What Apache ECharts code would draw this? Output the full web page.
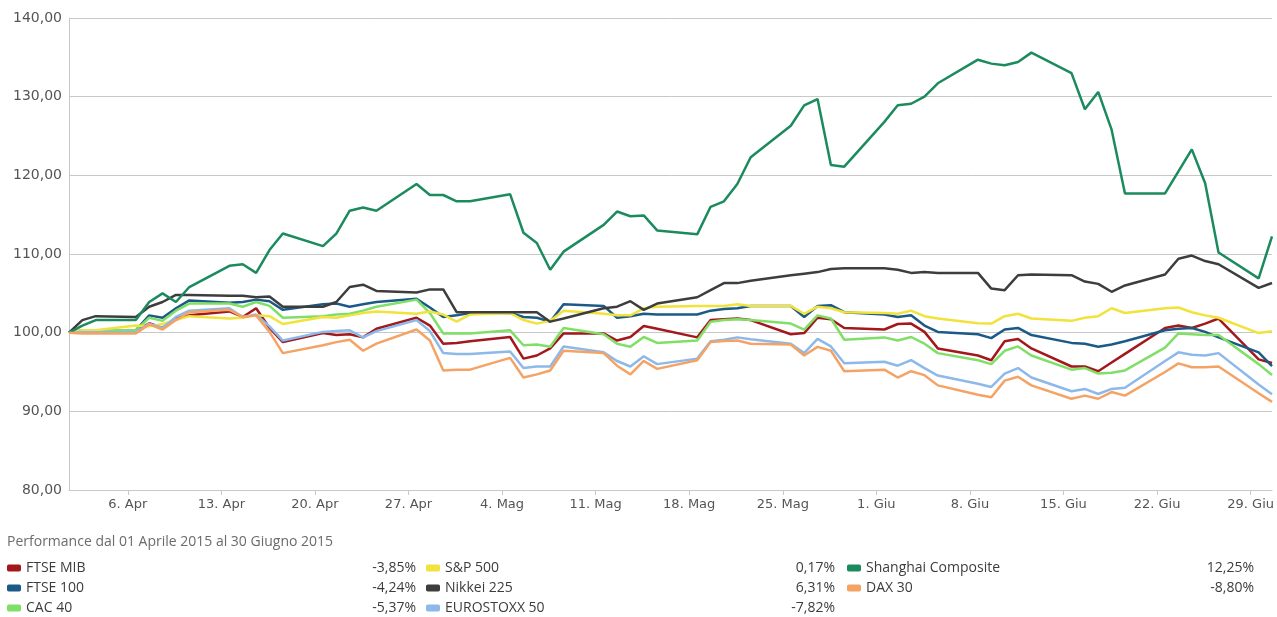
<!DOCTYPE html>
<html>
<head>
<meta charset="utf-8">
<title>Performance indici</title>
<script src="https://cdn.jsdelivr.net/npm/echarts@6/dist/echarts.min.js"></script>
<style>
  html, body { margin: 0; padding: 0; background: #fff; }
  #chart { width: 1277px; height: 617px; }
</style>
</head>
<body>
<div id="chart"></div>
<script>
  // giorni di borsa (lun-ven) dal 1 aprile al 30 giugno 2015
  var dates = [
    '2015-04-01','2015-04-02','2015-04-03','2015-04-06','2015-04-07','2015-04-08','2015-04-09','2015-04-10',
    '2015-04-13','2015-04-14','2015-04-15','2015-04-16','2015-04-17','2015-04-20','2015-04-21','2015-04-22',
    '2015-04-23','2015-04-24','2015-04-27','2015-04-28','2015-04-29','2015-04-30','2015-05-01','2015-05-04',
    '2015-05-05','2015-05-06','2015-05-07','2015-05-08','2015-05-11','2015-05-12','2015-05-13','2015-05-14',
    '2015-05-15','2015-05-18','2015-05-19','2015-05-20','2015-05-21','2015-05-22','2015-05-25','2015-05-26',
    '2015-05-27','2015-05-28','2015-05-29','2015-06-01','2015-06-02','2015-06-03','2015-06-04','2015-06-05',
    '2015-06-08','2015-06-09','2015-06-10','2015-06-11','2015-06-12','2015-06-15','2015-06-16','2015-06-17',
    '2015-06-18','2015-06-19','2015-06-22','2015-06-23','2015-06-24','2015-06-25','2015-06-26','2015-06-29',
    '2015-06-30'
  ];

  var ftseMib = [100, 100.2, 100.2, 100.2, 101.2, 100.6, 101.9, 102.2, 102.7, 102.0, 103.1, 100.6, 98.8,
    99.95, 99.7, 99.8, 99.4, 100.5, 101.9, 100.9, 98.6, 98.7, 98.9, 99.45, 96.7, 97.1, 98.0, 99.9,
    99.9, 99.0, 99.45, 100.85, 100.5, 99.4, 101.6, 101.7, 101.8, 101.6, 99.8, 99.95, 101.9, 101.7, 100.6,
    100.4, 101.1, 101.15, 100.1, 98.0, 97.1, 96.5, 98.9, 99.2, 98.0, 95.7, 95.7, 95.1, 96.2, 97.3,
    100.6, 100.9, 100.6, 101.15, 101.8, 96.6, 96.15];
  var ftse100 = [100, 100.3, 100.3, 100.3, 102.2, 101.9, 103.1, 104.1, 103.8, 103.9, 104.2, 104.0, 102.9,
    103.6, 103.7, 103.3, 103.6, 103.9, 104.3, 103.2, 102.0, 102.2, 102.5, 102.5, 102.0, 101.9, 101.4, 103.6,
    103.4, 101.9, 102.1, 102.4, 102.3, 102.3, 102.8, 103.0, 103.1, 103.4, 103.4, 102.0, 103.4, 103.5, 102.6,
    102.3, 102.0, 102.2, 100.9, 100.1, 99.8, 99.3, 100.4, 100.6, 99.7, 98.7, 98.6, 98.2, 98.5, 98.9,
    100.3, 100.5, 100.6, 100.1, 99.4, 97.5, 95.76];
  var cac40 = [100, 100.3, 100.3, 100.3, 101.9, 101.5, 102.8, 103.7, 103.7, 103.3, 103.9, 103.4, 101.9,
    102.1, 102.3, 102.4, 102.8, 103.3, 104.2, 102.5, 99.9, 99.9, 99.9, 100.3, 98.4, 98.5, 98.2, 100.6,
    99.8, 98.6, 98.2, 99.45, 98.7, 99.0, 101.4, 101.6, 101.7, 101.6, 101.15, 100.4, 102.2, 101.8, 99.1,
    99.4, 99.0, 99.45, 98.6, 97.4, 96.5, 96.0, 97.7, 98.25, 97.1, 95.3, 95.5, 94.8, 94.9, 95.2,
    98.1, 99.9, 99.8, 99.7, 99.7, 96.0, 94.63];
  var sp500 = [100, 100.3, 100.3, 100.9, 100.8, 101.1, 101.6, 102.1, 101.8, 101.9, 102.2, 102.1, 101.1,
    102.0, 101.9, 102.2, 102.5, 102.7, 102.4, 102.7, 102.3, 101.4, 102.3, 102.5, 101.6, 101.15, 101.5, 102.8,
    102.4, 102.2, 102.2, 103.1, 103.3, 103.4, 103.4, 103.4, 103.6, 103.4, 103.4, 102.4, 103.3, 103.1, 102.6,
    102.5, 102.4, 102.8, 102.1, 101.8, 101.2, 101.15, 102.1, 102.4, 101.8, 101.5, 101.9, 102.1, 103.1, 102.5,
    103.1, 103.2, 102.6, 102.2, 101.9, 99.95, 100.17];
  var nikkei225 = [100, 101.6, 102.1, 102.0, 103.3, 103.9, 104.8, 104.8, 104.7, 104.7, 104.5, 104.6, 103.3,
    103.3, 103.9, 105.8, 106.1, 105.3, 105.1, 105.5, 105.5, 102.6, 102.6, 102.6, 102.6, 102.6, 101.4, 101.8,
    103.1, 103.3, 104.0, 102.9, 103.7, 104.5, 105.4, 106.3, 106.3, 106.6, 107.3, 107.5, 107.7, 108.1, 108.2,
    108.2, 108.0, 107.6, 107.7, 107.6, 107.6, 105.6, 105.4, 107.3, 107.4, 107.3, 106.5, 106.2, 105.2, 106.0,
    107.4, 109.4, 109.8, 109.1, 108.7, 105.7, 106.31];
  var eurostoxx50 = [100, 100.05, 100.05, 100.05, 101.15, 100.6, 102.0, 102.8, 103.1, 102.0, 102.3, 100.8, 99.0,
    100.1, 100.2, 100.3, 99.4, 100.2, 101.6, 100.2, 97.4, 97.3, 97.3, 97.6, 95.5, 95.7, 95.7, 98.25,
    97.5, 96.4, 95.7, 97.0, 96.0, 96.7, 98.9, 99.1, 99.4, 99.15, 98.6, 97.4, 99.2, 98.25, 96.1,
    96.3, 95.8, 96.5, 95.5, 94.55, 93.5, 93.1, 94.8, 95.5, 94.3, 92.55, 92.85, 92.2, 92.85, 93.0,
    96.4, 97.5, 97.2, 97.1, 97.4, 93.4, 92.18];
  var shanghai = [100, 100.9, 101.6, 101.6, 103.9, 105.0, 103.9, 105.8, 108.5, 108.7, 107.6, 110.5, 112.6,
    111.0, 112.6, 115.5, 115.9, 115.5, 118.9, 117.5, 117.5, 116.7, 116.7, 117.6, 112.7, 111.4, 108.0, 110.3,
    113.7, 115.4, 114.8, 114.9, 113.0, 112.5, 116.0, 116.7, 118.9, 122.3, 126.3, 128.9, 129.7, 121.3, 121.1,
    126.8, 128.9, 129.1, 130.0, 131.7, 134.7, 134.2, 134.0, 134.4, 135.6, 133.0, 128.4, 130.6, 125.8, 117.7,
    117.7, 120.5, 123.3, 119.0, 110.2, 106.9, 112.25];
  var dax30 = [100, 99.9, 99.9, 99.9, 101.05, 100.4, 101.6, 102.6, 102.9, 102.0, 102.2, 100.1, 97.4,
    98.4, 98.8, 99.1, 97.7, 98.6, 100.4, 99.0, 95.2, 95.3, 95.3, 96.8, 94.3, 94.7, 95.2, 97.7,
    97.4, 95.8, 94.7, 96.4, 95.4, 96.5, 98.8, 98.95, 99.0, 98.6, 98.5, 97.1, 98.2, 97.7, 95.1,
    95.3, 94.3, 95.1, 94.6, 93.3, 92.1, 91.8, 93.9, 94.4, 93.3, 91.6, 92.0, 91.6, 92.45, 92.0,
    95.0, 96.1, 95.6, 95.6, 95.7, 92.3, 91.2];

  // lunedi con etichetta sull'asse x
  var tickDates = ['2015-04-06','2015-04-13','2015-04-20','2015-04-27','2015-05-04','2015-05-11','2015-05-18',
    '2015-05-25','2015-06-01','2015-06-08','2015-06-15','2015-06-22','2015-06-29'];
  var mesi = ['Gen','Feb','Mar','Apr','Mag','Giu','Lug','Ago','Set','Ott','Nov','Dic'];

  var indici = [
    { name: 'FTSE MIB', data: ftseMib, color: '#a3181c' },
    { name: 'FTSE 100', data: ftse100, color: '#1b5a87' },
    { name: 'CAC 40', data: cac40, color: '#80df67' },
    { name: 'S&P 500', data: sp500, color: '#f1e23c' },
    { name: 'Nikkei 225', data: nikkei225, color: '#3d3d3d' },
    { name: 'EUROSTOXX 50', data: eurostoxx50, color: '#8db9ea' },
    { name: 'Shanghai Composite', data: shanghai, color: '#1b8b5e' },
    { name: 'DAX 30', data: dax30, color: '#f4a364' }
  ];

  // asse x in giorni dal 1 aprile (scala lineare, weekend compresi)
  var DAY = 24 * 3600 * 1000;
  var t0 = Date.UTC(2015, 3, 1);
  var TICK_SHIFT = 0.6; // i tick del grafico originale cadono poco prima del punto del giorno
  function dayNum(s) {
    var p = s.split('-');
    return Math.round((Date.UTC(+p[0], +p[1] - 1, +p[2]) - t0) / DAY);
  }
  function fmt2(v) { return v.toFixed(2).replace('.', ','); }
  var tickPos = tickDates.map(function (s) { return dayNum(s) - TICK_SHIFT; });

  var perf = {};
  indici.forEach(function (s) { perf[s.name] = fmt2(s.data[s.data.length - 1] - 100) + '%'; });

  var chart = echarts.init(document.getElementById('chart'));

  // una legenda per voce: 3 colonne, riempite dall'alto in basso
  var colLeft = [2, 421, 842];
  var rowTop = [556, 576, 596];
  var legends = indici.map(function (s, i) {
    var col = Math.floor(i / 3), row = i % 3;
    return {
      left: colLeft[col],
      top: rowTop[row],
      itemWidth: 14,
      itemHeight: 7,
      icon: 'roundRect',
      selectedMode: false,
      data: [s.name],
      formatter: function (name) {
        return '{n|' + name + '}{v|' + perf[name] + '}';
      },
      textStyle: {
        fontFamily: 'Open Sans',
        fontSize: 14,
        color: '#3c3c3c',
        rich: {
          n: { width: col === 2 ? 338 : 340, fontFamily: 'Open Sans', fontSize: 14, color: '#3c3c3c' },
          v: { width: 50, align: 'right', fontFamily: 'Open Sans', fontSize: 14, color: '#3c3c3c' }
        }
      }
    };
  });

  var option = {
    animation: false,
    backgroundColor: '#fff',
    title: {
      text: 'Performance dal 01 Aprile 2015 al 30 Giugno 2015',
      left: 2,
      top: 530,
      textStyle: { fontFamily: 'Open Sans', fontSize: 14, fontWeight: 'normal', color: '#6b6b6b' }
    },
    legend: legends,
    grid: { left: 69, right: 5, top: 18, bottom: 127 },
    xAxis: {
      type: 'value',
      min: 0,
      max: dayNum(dates[dates.length - 1]),
      axisLine: { lineStyle: { color: '#c8c8c8', width: 1 } },
      axisTick: {
        show: true,
        length: 5,
        customValues: tickPos,
        lineStyle: { color: '#c8c8c8' }
      },
      splitLine: { show: false },
      axisLabel: {
        customValues: tickPos,
        margin: 8,
        fontFamily: 'DejaVu Sans',
        fontSize: 13,
        color: '#555',
        formatter: function (val) {
          var d = new Date(t0 + Math.round(val + TICK_SHIFT) * DAY);
          return d.getUTCDate() + '. ' + mesi[d.getUTCMonth()];
        }
      }
    },
    yAxis: {
      type: 'value',
      min: 80,
      max: 140,
      interval: 10,
      axisLine: { show: true, lineStyle: { color: '#c8c8c8' } },
      axisTick: { show: false },
      splitLine: { lineStyle: { color: '#c8c8c8', width: 1 } },
      axisLabel: {
        margin: 7,
        fontFamily: 'DejaVu Sans',
        fontSize: 14,
        color: '#555',
        formatter: function (v) { return fmt2(v); }
      }
    },
    series: indici.map(function (s) {
      return {
        name: s.name,
        type: 'line',
        symbol: 'none',
        color: s.color,
        lineStyle: { width: 2.5, color: s.color },
        data: dates.map(function (d, i) { return [dayNum(d), s.data[i]]; })
      };
    })
  };

  chart.setOption(option);
  window.addEventListener('resize', function () { chart.resize(); });
</script>
</body>
</html>
